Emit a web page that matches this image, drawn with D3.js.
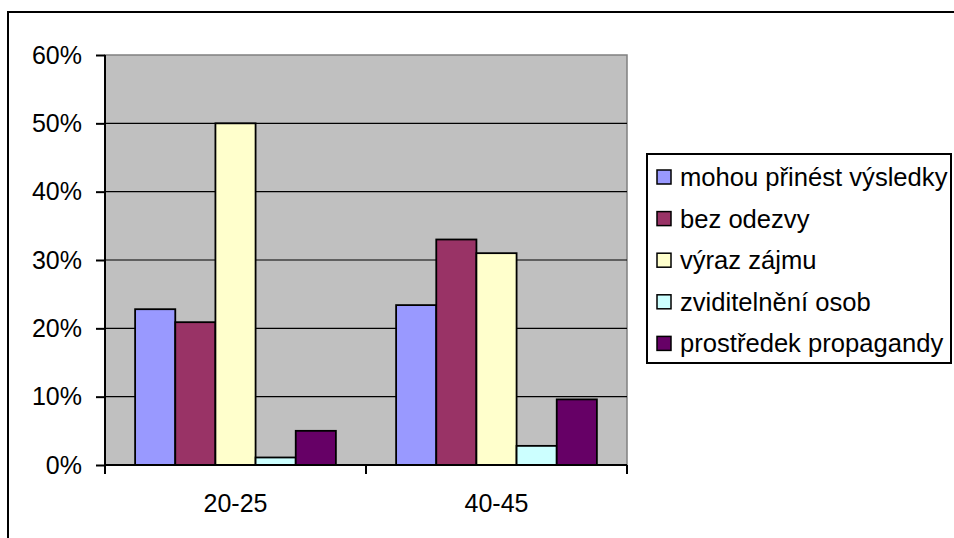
<!DOCTYPE html>
<html>
<head>
<meta charset="utf-8">
<script src="https://cdn.jsdelivr.net/npm/d3@7"></script>
<style>
  body { margin: 0; background: #fff; }
  text { font-family: "Liberation Sans", Arial, sans-serif; fill: #000; }
</style>
</head>
<body>
<div class="chart"></div>
<script>
const categories = ["20-25", "40-45"];
const seriesNames = ["mohou přinést výsledky", "bez odezvy", "výraz zájmu", "zviditelnění osob", "prostředek propagandy"];
const seriesColors = ["#9999FF", "#993366", "#FFFFCC", "#CCFFFF", "#660066"];
const values = [
    [0.228, 0.234],
    [0.209, 0.330],
    [0.500, 0.310],
    [0.011, 0.028],
    [0.050, 0.096]
];
const yTicks = [0, 0.1, 0.2, 0.3, 0.4, 0.5, 0.6];

let W = 954, H = 538;
let plot = {left: 105, top: 55, right: 627, bottom: 465};

let svg = d3.select(".chart").append("svg")
    .attr("width", W)
    .attr("height", H);

// outer chart frame (runs past the right and bottom edge)
svg.append("rect")
    .attr("x", 8).attr("y", 12)
    .attr("width", W + 20).attr("height", H + 20)
    .attr("fill", "#fff")
    .attr("stroke", "#000")
    .attr("stroke-width", 2);

let x = d3.scaleBand()
    .domain(categories)
    .range([plot.left, plot.right]);

let xs = d3.scaleBand()
    .domain(seriesNames)
    .range([0, x.bandwidth()])
    .paddingOuter(0.75);

let y = d3.scaleLinear()
    .domain([0, 0.6])
    .range([plot.bottom, plot.top]);

// plot area background
svg.append("rect")
    .attr("x", plot.left).attr("y", plot.top)
    .attr("width", plot.right - plot.left)
    .attr("height", plot.bottom - plot.top)
    .attr("fill", "#C0C0C0")
    .attr("stroke", "#808080")
    .attr("stroke-width", 1.5);

// gridlines
svg.selectAll(".grid")
    .data(yTicks.filter(d => d > 0 && d < 0.6))
    .enter().append("line")
    .attr("x1", plot.left).attr("x2", plot.right)
    .attr("y1", d => y(d)).attr("y2", d => y(d))
    .attr("stroke", "#000")
    .attr("stroke-width", 1.2);

// bars
let data = [];
seriesNames.forEach((s, i) => {
    categories.forEach((c, j) => {
        data.push({cat: c, series: s, color: seriesColors[i], v: values[i][j]});
    });
});

svg.selectAll(".bar")
    .data(data)
    .enter().append("rect")
    .attr("class", "bar")
    .attr("x", d => x(d.cat) + xs(d.series))
    .attr("width", xs.bandwidth())
    .attr("y", d => y(d.v))
    .attr("height", d => plot.bottom - y(d.v))
    .attr("fill", d => d.color)
    .attr("stroke", "#000")
    .attr("stroke-width", 1.8);

// y axis
let yAxis = d3.axisLeft(y)
    .tickValues(yTicks)
    .tickFormat(d3.format(".0%"))
    .tickSize(9)
    .tickPadding(14);

let gy = svg.append("g")
    .attr("transform", "translate(" + plot.left + ",0)")
    .call(yAxis);
gy.select(".domain").attr("stroke-width", 2).attr("d", "M0," + plot.top + "V" + plot.bottom);
gy.selectAll(".tick line").attr("stroke-width", 2);
gy.selectAll(".tick text")
    .style("font-size", "25px")
    .style("font-family", "'Liberation Sans', Arial, sans-serif");

// x axis with ticks at category boundaries
let gx = svg.append("g")
    .attr("transform", "translate(0," + plot.bottom + ")");
gx.append("line")
    .attr("x1", plot.left).attr("x2", plot.right)
    .attr("stroke", "#000").attr("stroke-width", 2);
let bounds = categories.map(c => x(c)).concat([x(categories[categories.length - 1]) + x.bandwidth()]);
gx.selectAll(".xtick")
    .data(bounds)
    .enter().append("line")
    .attr("x1", d => d).attr("x2", d => d)
    .attr("y1", 0).attr("y2", 9)
    .attr("stroke", "#000").attr("stroke-width", 2);
gx.selectAll(".xlabel")
    .data(categories)
    .enter().append("text")
    .attr("x", d => x(d) + x.bandwidth() / 2)
    .attr("y", 47)
    .attr("text-anchor", "middle")
    .style("font-size", "25px")
    .text(d => d);

// legend
let legend = {x: 647, y: 154, w: 304, h: 209};
svg.append("rect")
    .attr("x", legend.x).attr("y", legend.y)
    .attr("width", legend.w).attr("height", legend.h)
    .attr("fill", "#fff")
    .attr("stroke", "#000")
    .attr("stroke-width", 2);

let items = svg.selectAll(".legend-item")
    .data(seriesNames)
    .enter().append("g")
    .attr("transform", (d, i) => "translate(" + (legend.x + 10) + "," + (177 + i * 41.6) + ")");

items.append("rect")
    .attr("x", 0).attr("y", -7)
    .attr("width", 14).attr("height", 14)
    .attr("fill", (d, i) => seriesColors[i])
    .attr("stroke", "#000")
    .attr("stroke-width", 1.5);

items.append("text")
    .attr("x", 23)
    .attr("y", 0)
    .attr("dy", "0.35em")
    .style("font-size", "25.6px")
    .text(d => d);
</script>
</body>
</html>
